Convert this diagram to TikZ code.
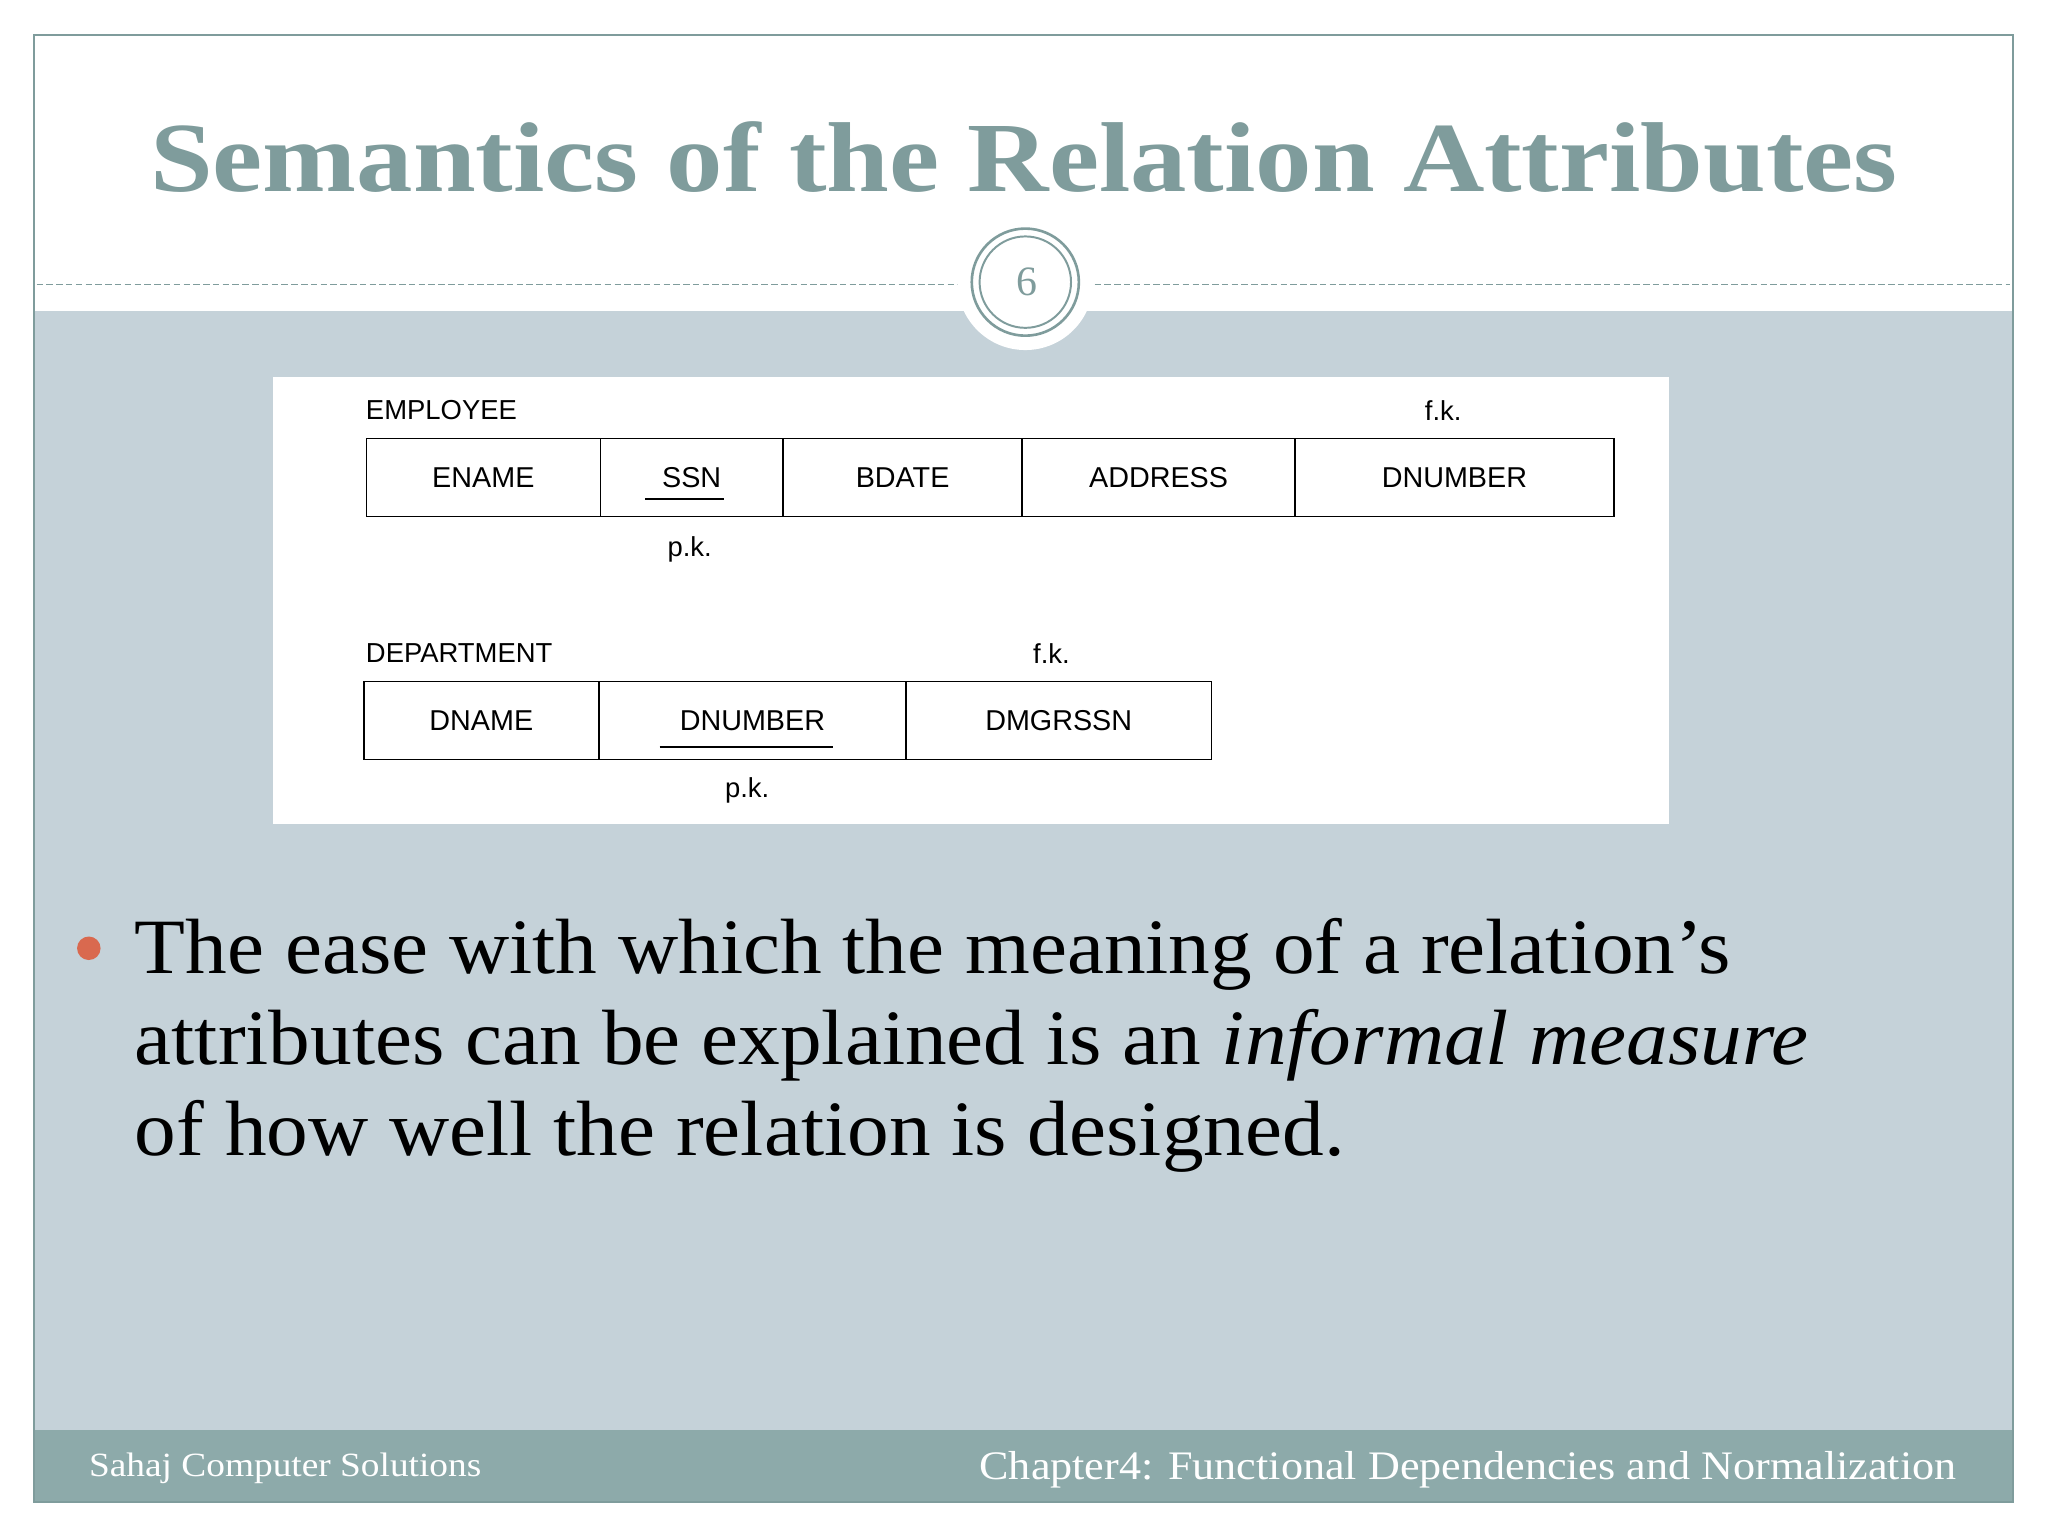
\documentclass[tikz,border=0pt]{standalone}
\usepackage{fontspec}
\setmainfont{Liberation Serif}
\newfontfamily\tabfont{Liberation Sans}
\begin{document}
\begin{tikzpicture}[x=1pt,y=-1pt,
  cell/.style={draw=black,line width=1.1pt,minimum height=60pt,anchor=north west,inner sep=0pt,font=\tabfont\fontsize{22}{24}\selectfont},
  lab/.style={font=\tabfont\fontsize{21}{24}\selectfont,inner sep=0pt},
  body/.style={font=\fontsize{60}{70}\selectfont,anchor=base west,inner sep=0pt}]
\definecolor{teal}{HTML}{7F9C9C}
\definecolor{bg}{HTML}{C5D2D9}
\definecolor{foot}{HTML}{8DAAAA}
\definecolor{bul}{HTML}{D9694F}
\useasboundingbox (0,0) rectangle (1568,1176);
\fill[white] (0,0) rectangle (1568,1176);
\fill[bg] (26,238) rectangle (1541,1095);
\fill[foot] (26,1095) rectangle (1541,1150);
\draw[teal,line width=1.2pt] (26,27) rectangle (1541,1150);
\draw[teal,dash pattern=on 5pt off 2.5pt,line width=1pt] (28,218) -- (1539,218);
\fill[white] (785,216) circle (52);
\draw[teal,line width=2pt] (785,216) circle (41);
\draw[teal,line width=1.5pt] (785,216) circle (35);
\node[text=teal,font=\fontsize{32}{32}\selectfont] (num) at (786,216) {6};
\node[text=teal,font=\bfseries\fontsize{76}{80}\selectfont] (title) at (784,120) {\scalebox{1.136}[1]{Semantics of the Relation Attributes}};
\fill[white] (209,289) rectangle (1278,631);
% employee
\node[lab,anchor=west] (emp) at (280,314) {EMPLOYEE};
\node[cell,minimum width=179pt] (e1) at (280,335) {ENAME};
\node[cell,minimum width=140pt] (e2) at (459,335) {SSN};
\node[cell,minimum width=183pt] (e3) at (599,335) {BDATE};
\node[cell,minimum width=209pt] (e4) at (782,335) {ADDRESS};
\node[cell,minimum width=244pt] (e5) at (991,335) {DNUMBER};
\draw[line width=1.2pt] (494,382) -- (554,382);
\node[lab] (epk) at (528,421) {p.k.};
\node[lab] (efk) at (1105,314) {f.k.};
% department
\node[lab,anchor=west] (dep) at (280,500) {DEPARTMENT};
\node[cell,minimum width=180pt] (d1) at (278,521) {DNAME};
\node[cell,minimum width=235pt] (d2) at (458,521) {DNUMBER};
\node[cell,minimum width=234pt] (d3) at (693,521) {DMGRSSN};
\draw[line width=1.2pt] (505,572) -- (638,572);
\node[lab] (dpk) at (572,605) {p.k.};
\node[lab] (dfk) at (805,500) {f.k.};
% bullet text
\fill[bul] (68,726) circle (9);
\node[body] (l1) at (103,745) {\scalebox{1.063}[1]{The ease with which the meaning of a relation{\char"27}s}};
\node[body] (l2) at (103,815) {\scalebox{1.063}[1]{attributes can be explained is an \textit{informal measure}}};
\node[body] (l3) at (103,885) {\scalebox{1.063}[1]{of how well the relation is designed.}};
\node[white,font=\fontsize{26}{28}\selectfont,anchor=west,inner sep=0pt] (f1) at (68,1124) {\scalebox{1.1}[1]{Sahaj Computer Solutions}};
\node[white,font=\fontsize{31}{32}\selectfont,anchor=east,inner sep=0pt] (f2) at (1498,1125) {\scalebox{1.09}[1]{Chapter4: Functional Dependencies and Normalization}};
\end{tikzpicture}
\end{document}
